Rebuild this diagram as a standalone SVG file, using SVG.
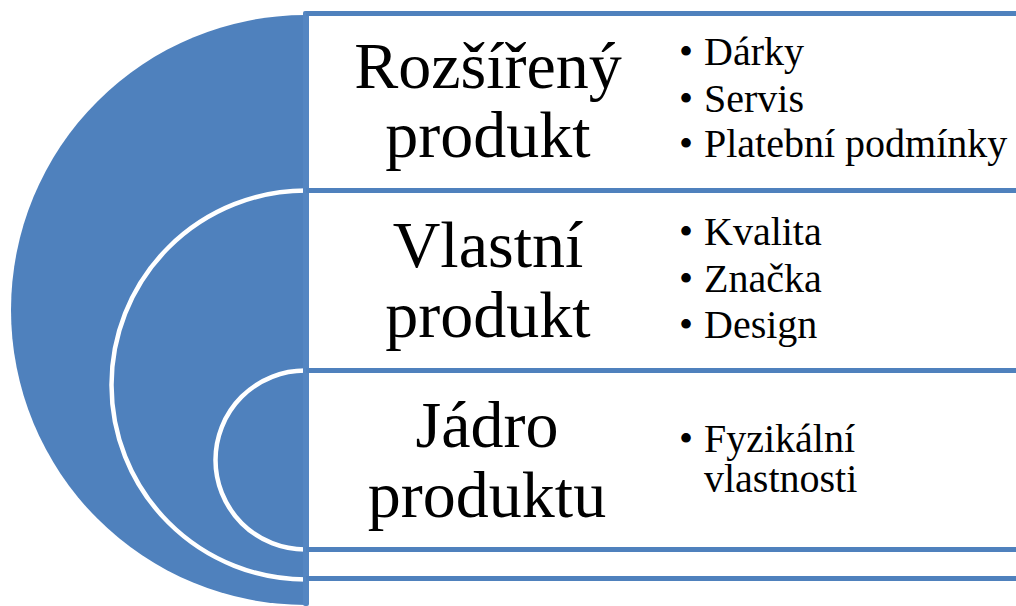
<svg xmlns="http://www.w3.org/2000/svg" width="1016" height="606" viewBox="0 0 1016 606">
  <style>
    .disc { fill: #4F81BD; }
    .ring { fill: none; stroke: #FFFFFF; stroke-width: 4.5; }
    .rule { stroke: #4F81BD; stroke-width: 5; fill: none; }
    .bar { fill: #5486C2; }
    .title { font-family: "Liberation Serif", "Times New Roman", serif; font-size: 66px; fill: #000000; text-anchor: middle; }
    .item { font-family: "Liberation Serif", "Times New Roman", serif; font-size: 40px; fill: #000000; }
  </style>
  <rect width="1016" height="606" fill="#FFFFFF"/>

  <g id="frame">
    <path class="disc" d="M306,15 A295,295 0 0 0 306,605 Z"/>
    <path class="ring" d="M306,190.5 A194.5,194.5 0 0 0 306,579.5"/>
    <path class="ring" d="M305,370.5 A89.5,89.5 0 0 0 305,549.5"/>
    <rect class="bar" x="303" y="11" width="6" height="595" rx="2"/>
  </g>

  <g id="connectors">
    <line class="rule" x1="306" y1="13.5" x2="1016" y2="13.5"/>
    <line class="rule" x1="306" y1="190.5" x2="1016" y2="190.5"/>
    <line class="rule" x1="306" y1="370.5" x2="1016" y2="370.5"/>
    <line class="rule" x1="306" y1="549.5" x2="1016" y2="549.5"/>
    <line class="rule" x1="306" y1="578.5" x2="1016" y2="578.5"/>
  </g>

  <g id="node-rozsireny">
    <text class="title" x="488" y="88">Rozšířený</text>
    <text class="title" x="488" y="157">produkt</text>
    <text class="item" x="679" y="65">•</text>
    <text class="item" x="704" y="65">Dárky</text>
    <text class="item" x="679" y="111.5">•</text>
    <text class="item" x="704" y="111.5">Servis</text>
    <text class="item" x="679" y="157">•</text>
    <text class="item" x="704" y="157">Platební podmínky</text>
  </g>

  <g id="node-vlastni">
    <text class="title" x="488" y="266.5">Vlastní</text>
    <text class="title" x="488" y="336.5">produkt</text>
    <text class="item" x="679" y="245">•</text>
    <text class="item" x="704" y="245">Kvalita</text>
    <text class="item" x="679" y="291.5">•</text>
    <text class="item" x="704" y="291.5">Značka</text>
    <text class="item" x="679" y="338">•</text>
    <text class="item" x="704" y="338">Design</text>
  </g>

  <g id="node-jadro">
    <text class="title" x="487" y="446.5">Jádro</text>
    <text class="title" x="487" y="516.5">produktu</text>
    <text class="item" x="679" y="451.5">•</text>
    <text class="item" x="704" y="451.5"><tspan x="704" y="451.5">Fyzikální</tspan><tspan x="704" y="491.5">vlastnosti</tspan></text>
  </g>
</svg>
